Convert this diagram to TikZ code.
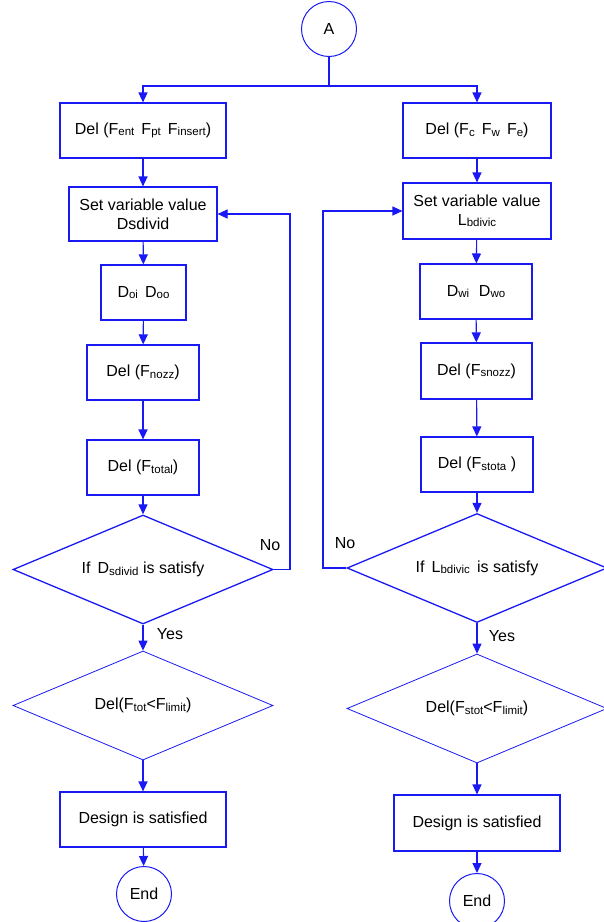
\documentclass[tikz,border=0pt]{standalone}
\usepackage{fontspec}
\setmainfont{Liberation Sans}
\usetikzlibrary{shapes.geometric,arrows.meta}
\definecolor{fblue}{RGB}{25,25,245}
\newcommand\subx[1]{\raisebox{-1.5pt}{\fontsize{11.5}{12}\selectfont #1}}
\begin{document}
\begin{tikzpicture}[x=1pt,y=-1pt,
  every node/.style={font=\fontsize{16}{19}\selectfont, text=black},
  boxnode/.style={draw=fblue, line width=1.1pt, rectangle, inner sep=0pt, align=center},
  circnode/.style={draw=fblue, line width=1pt, circle, inner sep=0pt, minimum size=55pt},
  decnode/.style={draw=fblue, line width=1.3pt, diamond, aspect=2.4, inner sep=0pt, minimum width=260pt, minimum height=109pt},
  decthin/.style={draw=fblue, line width=0.8pt, diamond, aspect=2.4, inner sep=0pt, minimum width=260pt, minimum height=109pt},
  conn/.style={draw=fblue, line width=1.1pt},
  arr/.style={conn, -{Triangle[length=10pt,width=9pt]}},
  lbl/.style={font=\fontsize{16}{19}\selectfont}
]
\useasboundingbox (0,0) rectangle (604,922);

\node[circnode] (A) at (329,29) {A};

\node[boxnode, minimum width=166pt, minimum height=55pt] (b1L) at (143,130.5) {Del (F\subx{ent} \,F\subx{pt} \,F\subx{insert})};
\node[boxnode, minimum width=148pt, minimum height=55pt] (b1R) at (477,130.5) {Del (F\subx{c} \,F\subx{w} \,F\subx{e})};

\node[boxnode, minimum width=148pt, minimum height=54pt] (b2L) at (143,214) {Set variable value\\Dsdivid};
\node[boxnode, minimum width=148pt, minimum height=56pt] (b2R) at (477,211) {Set variable value\\L\subx{bdivic}};

\node[boxnode, minimum width=85pt, minimum height=55pt] (b3L) at (143.5,292.5) {D\subx{oi} \,D\subx{oo}};
\node[boxnode, minimum width=112pt, minimum height=55pt] (b3R) at (476,291.5) {D\subx{wi} \,\,D\subx{wo}};

\node[boxnode, minimum width=112pt, minimum height=55pt] (b4L) at (143,372.5) {Del (F\subx{nozz})};
\node[boxnode, minimum width=111pt, minimum height=56pt] (b4R) at (476.5,371) {Del (F\subx{snozz})};

\node[boxnode, minimum width=112pt, minimum height=55pt] (b5L) at (143,467.5) {Del (F\subx{total})};
\node[boxnode, minimum width=112pt, minimum height=55pt] (b5R) at (477,464.5) {Del (F\subx{stota} )};

\node[decnode] (d1L) at (143,569.5) {If \,D\subx{sdivid} is satisfy};
\node[decnode] (d1R) at (477,568) {If \,L\subx{bdivic} \,is satisfy};

\node[decthin] (d2L) at (143,705.5) {Del(F\subx{tot}<F\subx{limit})};
\node[decthin] (d2R) at (477,708.5) {Del(F\subx{stot}<F\subx{limit})};

\node[boxnode, minimum width=166pt, minimum height=55pt] (b6L) at (143,819.5) {Design is satisfied};
\node[boxnode, minimum width=166pt, minimum height=56pt] (b6R) at (477,823) {Design is satisfied};

\node[circnode] (eL) at (144,894) {End};
\node[circnode] (eR) at (477,901) {End};

% top split
\coordinate (split) at (329,86);
\draw[conn] (A.south) -- (split);
\draw[arr] (split) -| (b1L.north);
\draw[arr] (split) -| (b1R.north);

% left column
\draw[arr] (b1L) -- (b2L);
\draw[arr] (b2L) -- (b3L);
\draw[arr] (b3L) -- (b4L);
\draw[arr] (b4L) -- (b5L);
\draw[arr] (b5L) -- (d1L);
\draw[arr] (d1L) -- (d2L);
\draw[arr] (d2L) -- (b6L);
\draw[arr] (b6L) -- (eL);

% right column
\draw[arr] (b1R) -- (b2R);
\draw[arr] (b2R) -- (b3R);
\draw[arr] (b3R) -- (b4R);
\draw[arr] (b4R) -- (b5R);
\draw[arr] (b5R) -- (d1R);
\draw[arr] (d1R) -- (d2R);
\draw[arr] (d2R) -- (b6R);
\draw[arr] (b6R) -- (eR);

% loops
\coordinate (loopL) at (290,0);
\coordinate (loopR) at (323,0);
\draw[arr] (d1L.east) -- (d1L.east -| loopL) |- (b2L.east);
\draw[arr] (d1R.west) -- (d1R.west -| loopR) |- (b2R.west);

% labels
\node[lbl] (noL) at (270,545) {No};
\node[lbl] (noR) at (345,543) {No};
\node[lbl] (yesL) at (170,634) {Yes};
\node[lbl] (yesR) at (502,636) {Yes};
\end{tikzpicture}
\end{document}
